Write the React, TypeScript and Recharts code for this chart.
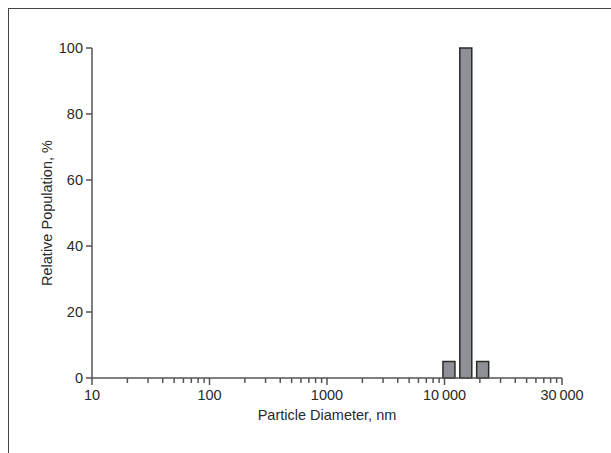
import { BarChart, Bar, XAxis, YAxis, Label } from "recharts";

// particle size distribution (bin centres in nm)
const diameters = [11000, 15300, 21300];
const population = [5, 100, 5];

const majorTicks = [10, 100, 1000, 10000, 100000];
// the source figure labels its last decade mark "30 000"
const majorLabels = ["10", "100", "1000", "10\u2009000", "30\u2009000"];
const minorTicks = [10, 100, 1000, 10000].flatMap((d) =>
  [2, 3, 4, 5, 6, 7, 8, 9].map((m) => d * m),
);
const yTicks = [0, 20, 40, 60, 80, 100];

const FONT = "'Liberation Sans', Arial, sans-serif";
const AXIS = "#555";
const TEXT = "#2a2a2a";

const data = diameters.map((d, i) => ({ d, v: population[i] }));

function XTick(props: any) {
  const { x, y, payload } = props;
  const idx = majorTicks.indexOf(payload.value);
  const major = idx >= 0;
  return (
    <g>
      <line x1={x} x2={x} y1={y} y2={y + (major ? 7 : 5)} stroke={AXIS} strokeWidth={1.5} />
      {major && (
        <text x={x} y={y + 22} textAnchor="middle" fill={TEXT} fontSize={14.5} fontFamily={FONT}>
          {majorLabels[idx]}
        </text>
      )}
    </g>
  );
}

export default function App() {
  return (
    <div style={{ position: "absolute", left: 0, top: 0, width: 611, height: 453, background: "#fff" }}>
      <div
        style={{
          position: "absolute",
          left: 8,
          top: 8,
          width: 603,
          height: 445,
          borderTop: "1.5px solid #444",
          borderLeft: "1.5px solid #444",
        }}
      />
      <BarChart
        width={611}
        height={453}
        data={data}
        margin={{ top: 48, right: 49, bottom: 45, left: 32 }}
        style={{ position: "absolute", left: 0, top: 0 }}
      >
        <XAxis
          dataKey="d"
          type="number"
          scale="log"
          domain={[10, 100000]}
          allowDataOverflow
          ticks={[...majorTicks, ...minorTicks].sort((a, b) => a - b)}
          interval={0}
          tickSize={0}
          tickMargin={0}
          tick={<XTick />}
          height={30}
          stroke={AXIS}
          strokeWidth={1.5}
        >
          <Label
            value="Particle Diameter, nm"
            position="bottom"
            offset={2}
            style={{ fill: TEXT, fontSize: 14.5, fontFamily: FONT }}
          />
        </XAxis>
        <YAxis
          type="number"
          domain={[0, 100]}
          ticks={yTicks}
          interval={0}
          width={60}
          tickSize={6}
          tickMargin={3}
          stroke={AXIS}
          strokeWidth={1.5}
          tick={{ fill: TEXT, fontSize: 14.5, fontFamily: FONT }}
        >
          <Label
            value="Relative Population, %"
            angle={-90}
            position="insideLeft"
            offset={15}
            style={{ fill: TEXT, fontSize: 14.5, fontFamily: FONT, textAnchor: "middle" }}
          />
        </YAxis>
        <Bar
          dataKey="v"
          barSize={12}
          fill="#8e9096"
          stroke="#2a2a2a"
          strokeWidth={1.5}
          isAnimationActive={false}
        />
      </BarChart>
    </div>
  );
}
